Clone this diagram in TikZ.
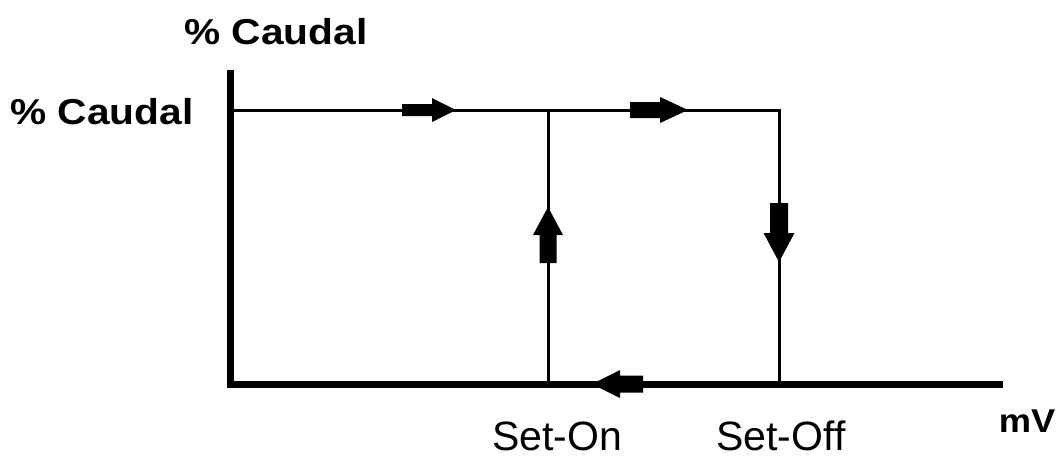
\documentclass[tikz,border=0pt]{standalone}
\usepackage{fontspec}
\setmainfont{Liberation Sans}
\begin{document}
\begin{tikzpicture}[x=1pt,y=-1pt,
  axis/.style={line width=7pt,line join=miter},
  flow/.style={line width=3pt},
  boldlbl/.style={inner sep=0pt,font=\bfseries\fontsize{36}{40}\selectfont,xscale=1.13},
  mvlbl/.style={inner sep=0pt,font=\bfseries\fontsize{33}{36}\selectfont,xscale=1.1},
  setlbl/.style={inner sep=0pt,font=\fontsize{41}{46}\selectfont},
  pics/farrow/.style n args={4}{code={%
    \fill (0,0) -- (-#3,#4) -- (-#3,#2) -- (-#3-#1,#2) -- (-#3-#1,-#2) -- (-#3,-#2) -- (-#3,-#4) -- cycle;}}
]
\useasboundingbox (0,0) rectangle (1060,459);
% axes
\coordinate (ytop) at (230,70);
\coordinate (O) at (230,384);
\coordinate (xend) at (1003,384);
\draw[axis] (ytop) -- (O) -- (xend);
% flow lines
\coordinate (qstart) at (230,110);
\coordinate (qon) at (548,110);
\coordinate (qoff) at (779,110);
\coordinate (von) at (548,384);
\coordinate (voff) at (779,384);
\draw[flow] (qstart) -- (qoff) -- (voff);
\draw[flow] (qon) -- (von);
% arrows
\pic at (456,110) {farrow={30}{6}{24}{12}};
\pic at (688,110) {farrow={30}{8}{28}{13}};
\pic[rotate=90] at (548,207) {farrow={28}{8.5}{28}{15}};
\pic[rotate=-90] at (779,262) {farrow={30}{9}{29}{15.5}};
\pic[rotate=180] at (592,384) {farrow={23}{8.5}{28}{14}};
% labels
\node[boldlbl] (ylabel) at (276,32) {\% Caudal};
\node[boldlbl] (qlabel) at (102,112) {\% Caudal};
\node[mvlbl] (mv) at (1027,421) {mV};
\node[setlbl] (seton) at (557,436) {Set-On};
\node[setlbl] (setoff) at (781,436) {Set-Off};
\end{tikzpicture}
\end{document}
